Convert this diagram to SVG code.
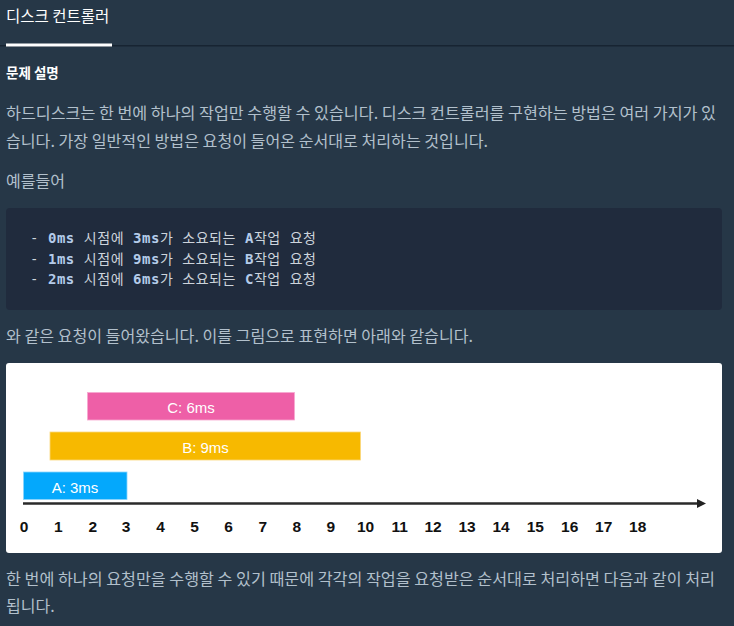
<svg xmlns="http://www.w3.org/2000/svg" width="734" height="626" viewBox="0 0 734 626">
<style>
.kr{font-family:"Noto Sans CJK KR","Noto Sans",sans-serif;}
.p{font-size:16px;fill:#b2c0cc;}
.code{font-family:"DejaVu Sans Mono","Noto Sans CJK KR",monospace;font-size:14px;fill:#cdd4dc;}
.hl{fill:#b4cbea;font-weight:bold;}
.lbl{font-family:"Liberation Sans",Arial,sans-serif;font-size:15px;fill:#ffffff;text-anchor:middle;}
.num{font-family:"Liberation Sans",Arial,sans-serif;font-size:15.5px;font-weight:bold;fill:#111;text-anchor:middle;}
</style>
<defs>
<marker id="arr" markerWidth="10" markerHeight="10" refX="2" refY="4.5" orient="auto" markerUnits="userSpaceOnUse">
<path d="M0,0 L9,4.5 L0,9 Z" fill="#222"/>
</marker>
</defs>
<rect x="0" y="0" width="734" height="626" fill="#263747"/>
<g id="header">
<text class="kr" x="6" y="22" font-size="15.5" fill="#ffffff">디스크 컨트롤러</text>
<rect x="0" y="45" width="734" height="1.5" fill="#172432"/>
<rect x="6" y="43.5" width="106" height="3" fill="#ffffff"/>
</g>
<g id="description">
<text class="kr" x="6" y="78" font-size="13.5" font-weight="bold" fill="#ffffff">문제 설명</text>
<text class="kr p" x="6" y="119" textLength="710" lengthAdjust="spacingAndGlyphs">하드디스크는 한 번에 하나의 작업만 수행할 수 있습니다. 디스크 컨트롤러를 구현하는 방법은 여러 가지가 있</text>
<text class="kr p" x="6" y="147" textLength="482" lengthAdjust="spacingAndGlyphs">습니다. 가장 일반적인 방법은 요청이 들어온 순서대로 처리하는 것입니다.</text>
<text class="kr p" x="6" y="187">예를들어</text>
</g>
<g id="codeblock">
<rect x="6" y="208" width="716" height="102" rx="4" fill="#202b3d"/>
<text class="code" x="30" y="243" textLength="286" lengthAdjust="spacing">- <tspan class="hl">0ms</tspan> 시점에 <tspan class="hl">3ms</tspan>가 소요되는 <tspan class="hl">A</tspan>작업 요청</text>
<text class="code" x="30" y="264" textLength="286" lengthAdjust="spacing">- <tspan class="hl">1ms</tspan> 시점에 <tspan class="hl">9ms</tspan>가 소요되는 <tspan class="hl">B</tspan>작업 요청</text>
<text class="code" x="30" y="284" textLength="286" lengthAdjust="spacing">- <tspan class="hl">2ms</tspan> 시점에 <tspan class="hl">6ms</tspan>가 소요되는 <tspan class="hl">C</tspan>작업 요청</text>
</g>
<g id="intro2">
<text class="kr p" x="6" y="342" textLength="467" lengthAdjust="spacingAndGlyphs">와 같은 요청이 들어왔습니다. 이를 그림으로 표현하면 아래와 같습니다.</text>
</g>
<g id="figure">
<rect x="6" y="363" width="716" height="190" rx="3" fill="#ffffff"/>
<g id="barC">
<rect x="87.5" y="392.5" width="207" height="27.5" fill="#ee5fa7" stroke="#f7a8d0" stroke-width="0.8"/>
<text class="lbl" x="191" y="412.5">C: 6ms</text>
</g>
<g id="barB">
<rect x="50" y="432" width="310.5" height="28" fill="#f7b900" stroke="#fbd77a" stroke-width="0.8"/>
<text class="lbl" x="205.5" y="453">B: 9ms</text>
</g>
<g id="barA">
<rect x="23.5" y="472" width="103.5" height="27.5" fill="#04a8fc" stroke="#8ad4fd" stroke-width="0.8"/>
<text class="lbl" x="75" y="493">A: 3ms</text>
</g>
<g id="connectors">
<line x1="23" y1="503.5" x2="699" y2="503.5" stroke="#2a2a2a" stroke-width="2.4" marker-end="url(#arr)"/>
</g>
<g id="axis-labels">
<text class="num" x="24" y="531.5">0</text>
<text class="num" x="58.3" y="531.5">1</text>
<text class="num" x="92.7" y="531.5">2</text>
<text class="num" x="126" y="531.5">3</text>
<text class="num" x="160.5" y="531.5">4</text>
<text class="num" x="194.5" y="531.5">5</text>
<text class="num" x="228.5" y="531.5">6</text>
<text class="num" x="262.7" y="531.5">7</text>
<text class="num" x="296.7" y="531.5">8</text>
<text class="num" x="330.7" y="531.5">9</text>
<text class="num" x="365.5" y="531.5">10</text>
<text class="num" x="399.7" y="531.5">11</text>
<text class="num" x="433" y="531.5">12</text>
<text class="num" x="467" y="531.5">13</text>
<text class="num" x="501" y="531.5">14</text>
<text class="num" x="535.3" y="531.5">15</text>
<text class="num" x="569.7" y="531.5">16</text>
<text class="num" x="603.7" y="531.5">17</text>
<text class="num" x="637.7" y="531.5">18</text>
</g>
</g>
<g id="outro">
<text class="kr p" x="6" y="585" textLength="709" lengthAdjust="spacingAndGlyphs">한 번에 하나의 요청만을 수행할 수 있기 때문에 각각의 작업을 요청받은 순서대로 처리하면 다음과 같이 처리</text>
<text class="kr p" x="6" y="612">됩니다.</text>
</g>
</svg>
